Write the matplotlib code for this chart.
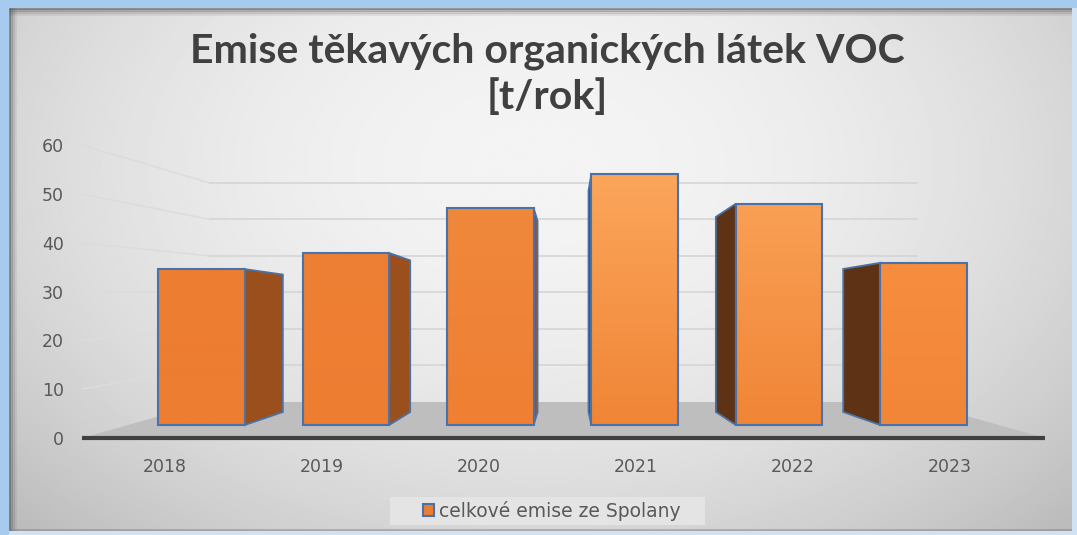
import numpy as np
import matplotlib.pyplot as plt
import matplotlib as mpl
from matplotlib.patches import Polygon, Rectangle, Patch

mpl.style.use('default')

# data
years = ['2018', '2019', '2020', '2021', '2022', '2023']
emise = [34.6, 37.9, 47.1, 54.1, 48.0, 35.9]
series_name = 'celkové emise ze Spolany'
title = 'Emise těkavých organických látek VOC\n[t/rok]'
yticks = [0, 10, 20, 30, 40, 50, 60]

W, H = 1077, 535
fig = plt.figure(figsize=(W / 100, H / 100), dpi=100)
fig.patch.set_facecolor('#cfe3f5')

# blue glow on top and left edges
fig.patches.append(Rectangle((0, 0), 9 / W, 1, transform=fig.transFigure,
                             facecolor='#a6cbee', edgecolor='none', zorder=0))
fig.patches.append(Rectangle((0, 1 - 8 / H), 1, 8 / H, transform=fig.transFigure,
                             facecolor='#a6cbee', edgecolor='none', zorder=0))

# background panel with a soft radial gradient
bg = fig.add_axes([9 / W, 4 / H, (1072 - 9) / W, (527 - 4) / H])
bg.set_axis_off()
yy, xx = np.mgrid[0:1:300j, 0:1:600j]
r2 = ((xx - 0.5) / 0.62) ** 2 + ((yy - 0.3) / 0.85) ** 2
val = np.clip(0.955 - 0.17 * r2, 0, 1)
bg.imshow(val, cmap='gray', vmin=0, vmax=1, extent=[0, 1, 0, 1], aspect='auto',
          origin='upper', interpolation='bilinear')
# inner shadow on top and left
for k, a in enumerate([0.55, 0.35, 0.2, 0.1]):
    bg.plot([0, 1], [1 - k * 0.004, 1 - k * 0.004], color='#505050', alpha=a, lw=2,
            transform=bg.transAxes, solid_capstyle='butt')
    bg.plot([k * 0.002, k * 0.002], [0, 1], color='#505050', alpha=a, lw=2,
            transform=bg.transAxes, solid_capstyle='butt')
bg.plot([0, 1], [0.002, 0.002], color='#808080', alpha=0.5, lw=2, transform=bg.transAxes)
bg.set_xlim(0, 1)
bg.set_ylim(0, 1)

# legend box (between background and chart)
fig.patches.append(Rectangle((390 / W, 1 - 525 / H), 315 / W, 28 / H,
                             transform=fig.transFigure, facecolor='#e4e4e4',
                             edgecolor='none', zorder=0.5))

# main axes: front axis 0 at y=438px, 4.88 px per unit; bar spacing 144.4px
L, R, T, B = 72, 1060, 100, 448
ax = fig.add_axes([L / W, (H - B) / H, (R - L) / W, (B - T) / H])
ax.set_zorder(1)
ax.patch.set_alpha(0)
for s in ax.spines.values():
    s.set_visible(False)

px_x = lambda p: (p - 201.5) / 144.4
px_y = lambda p: (438 - p) / 4.88

# perspective geometry
wall_k = 0.748           # back wall scale vs front
x_fl, x_fr = px_x(82), px_x(1045)
x_bl, x_br = px_x(210), px_x(917)
y_back0 = px_y(402)

# gridlines on left and back walls
for v in yticks[1:]:
    yb = y_back0 + wall_k * v
    ax.plot([x_fl, x_bl], [v, yb], color='#dcdcdc', lw=1.1, zorder=1)
    ax.plot([x_bl, x_br], [yb, yb], color='#d3d3d3', lw=1.1, zorder=1)

# floor
ax.add_patch(Polygon([(x_fl, 0), (x_fr, 0), (x_br, y_back0), (x_bl, y_back0)],
                     closed=True, facecolor='#bebebe', edgecolor='none', zorder=2))

# bars
bw = 0.6
base = px_y(425)
vpx, vpy, dk = px_x(567), px_y(315), 0.118
tops = ['#ed7d31', '#ee8035', '#f0883c', '#fba65b', '#f9a055', '#f68d3f']
bots = ['#ed7d31', '#ed7d31', '#ee7f33', '#f08536', '#f08536', '#f28638']
edge = '#4a72a6'


def back(x, y):
    return x + (vpx - x) * dk, y + (vpy - y) * dk


for i, v in enumerate(emise):
    x0, x1 = i - bw / 2, i + bw / 2
    if x1 < vpx:
        xs, col = x1, '#9a4f1d'
    else:
        xs, col = x0, '#5e3214'
    bx1, by1 = back(xs, base)
    bx2, by2 = back(xs, v)
    ax.add_patch(Polygon([(xs, base), (xs, v), (bx2, by2), (bx1, by1)], closed=True,
                         facecolor=col, edgecolor=edge, lw=1.3, zorder=3))
    grad = np.linspace(0, 1, 100)[:, None]
    c0 = np.array(mpl.colors.to_rgb(tops[i]))
    c1 = np.array(mpl.colors.to_rgb(bots[i]))
    img = c0[None, None, :] * (1 - grad[..., None]) + c1[None, None, :] * grad[..., None]
    rect = Rectangle((x0, base), bw, v - base, facecolor='none', edgecolor=edge,
                     lw=1.5, zorder=5)
    ax.add_patch(rect)
    im = ax.imshow(img, extent=[x0, x1, base, v], aspect='auto', origin='upper',
                   zorder=4, interpolation='bilinear')
    im.set_clip_path(rect)

# front axis line
ax.plot([x_fl, x_fr], [0, 0], color='#404040', lw=3, zorder=6, solid_capstyle='butt')

ax.set_xlim(px_x(L), px_x(R))
ax.set_ylim(px_y(B), px_y(T))

ax.set_yticks(yticks)
ax.set_yticklabels([str(t) for t in yticks])
lab_vp, lab_k = 2.9, 1.087
ax.set_xticks([lab_vp + (i - lab_vp) * lab_k for i in range(len(years))])
ax.set_xticklabels(years)
ax.tick_params(axis='both', length=0, labelsize=12.5, labelcolor='#595959')
ax.tick_params(axis='x', pad=7)
ax.tick_params(axis='y', pad=6)

fig.text(547 / W, 1 - 74 / H, title, ha='center', va='center', fontsize=29.5,
         fontweight='bold', family='Lato', color='#404040', linespacing=1.28)

leg = ax.legend(handles=[Patch(facecolor='#ed7d31', edgecolor=edge, lw=1.5,
                               label=series_name)],
                loc='center', bbox_to_anchor=(552 / W, 1 - 511 / H),
                bbox_transform=fig.transFigure, frameon=False,
                handlelength=0.6, handleheight=0.6, handletextpad=0.25,
                fontsize=13.5, borderpad=0.2)
for t in leg.get_texts():
    t.set_color('#595959')

fig.savefig('out.png', dpi=100, facecolor=fig.get_facecolor())
